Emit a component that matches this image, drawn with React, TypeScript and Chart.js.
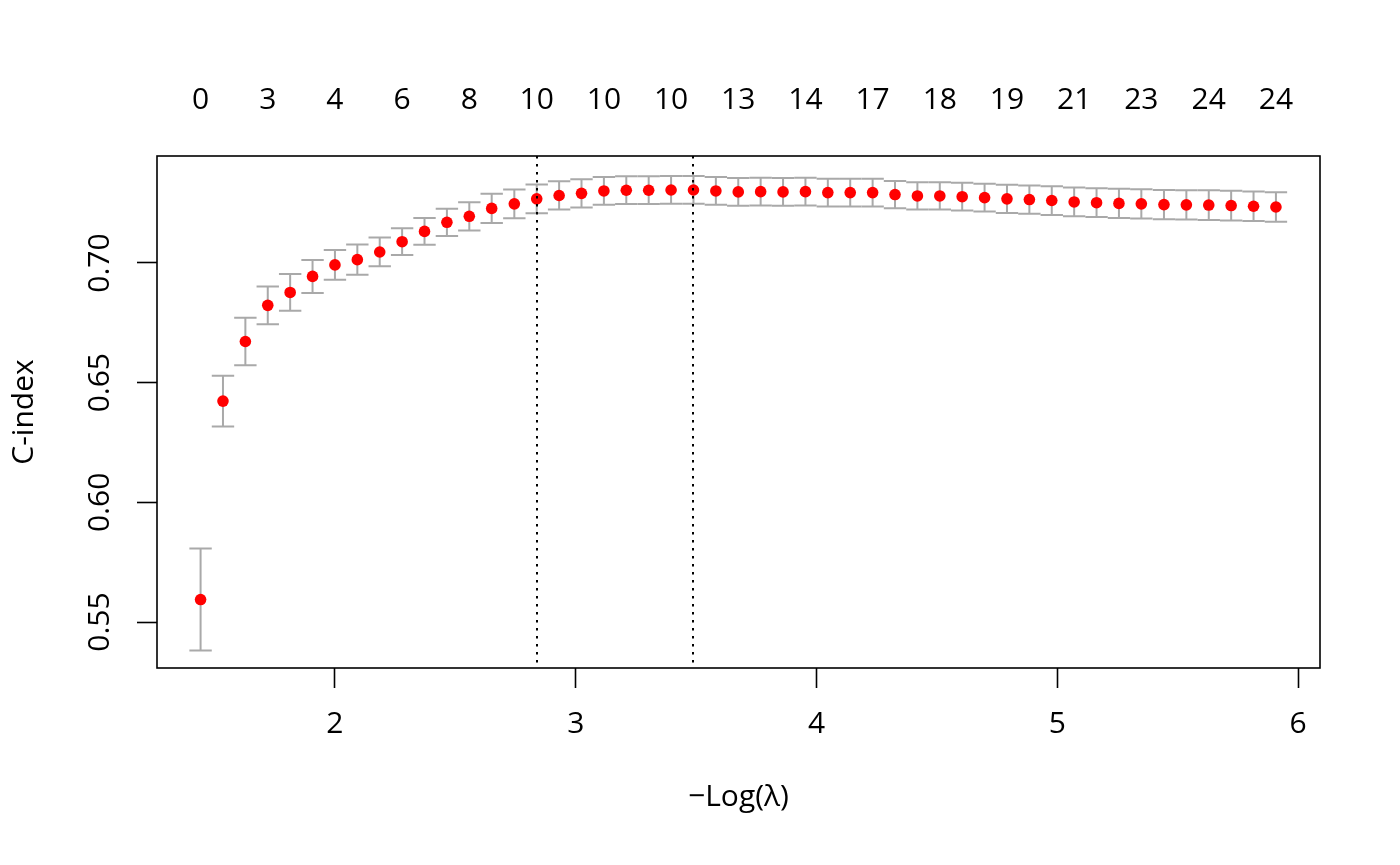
import React, { useEffect, useRef } from "react";
import { Chart, registerables } from "chart.js";

Chart.register(...registerables);

// -log(lambda) for each fitted lambda
const lambdaX = [
  1.442, 1.535, 1.628, 1.721, 1.814, 1.907, 2.0, 2.093, 2.186, 2.279,
  2.372, 2.465, 2.558, 2.651, 2.745, 2.838, 2.931, 3.024, 3.117, 3.21,
  3.303, 3.396, 3.489, 3.582, 3.675, 3.768, 3.861, 3.954, 4.047, 4.14,
  4.233, 4.326, 4.419, 4.512, 4.605, 4.698, 4.791, 4.884, 4.977, 5.07,
  5.163, 5.256, 5.349, 5.443, 5.536, 5.629, 5.722, 5.815, 5.908,
];

// mean cross-validated C-index
const cvm = [
  0.5594, 0.6423, 0.6672, 0.6823, 0.6877, 0.6944, 0.6992, 0.7014, 0.7046, 0.7089,
  0.7132, 0.717, 0.7195, 0.7228, 0.7247, 0.7268, 0.7282, 0.7291, 0.7301, 0.7304,
  0.7304, 0.7305, 0.7305, 0.7301, 0.7297, 0.7298, 0.7297, 0.7298, 0.7294, 0.7294,
  0.7294, 0.7286, 0.728, 0.728, 0.7277, 0.7273, 0.7268, 0.7265, 0.7261, 0.7255,
  0.7252, 0.7249, 0.7247, 0.7244, 0.7243, 0.7242, 0.724, 0.7237, 0.7234,
];

// standard error of the C-index
const cvsd = [
  0.0213, 0.0106, 0.0099, 0.0079, 0.0077, 0.0069, 0.0062, 0.0063, 0.006, 0.0056,
  0.0056, 0.0057, 0.0059, 0.0061, 0.006, 0.006, 0.0059, 0.0059, 0.0058, 0.0058,
  0.0058, 0.0058, 0.0058, 0.0058, 0.0058, 0.0058, 0.0058, 0.0058, 0.0058, 0.0058,
  0.0058, 0.0057, 0.0057, 0.0057, 0.0058, 0.0058, 0.0059, 0.0059, 0.006, 0.006,
  0.006, 0.0061, 0.0061, 0.0061, 0.0061, 0.0062, 0.0062, 0.0062, 0.0062,
];

// number of non-zero coefficients shown on the top axis (every third lambda)
const topLabelIndex = [0, 3, 6, 9, 12, 15, 18, 21, 24, 27, 30, 33, 36, 39, 42, 45, 48];
const topLabels = ["0", "3", "4", "6", "8", "10", "10", "10", "13", "14", "17", "18", "19", "21", "23", "24", "24"];

const xTicks = [2, 3, 4, 5, 6];
const yTicks = [0.55, 0.6, 0.65, 0.7];
const xRange = [1.261, 6.091];
const yRange = [0.5308, 0.7447];

// lambda.1se and lambda.min
const refLines = [2.838, 3.489];

const FONT = "'Open Sans', 'Noto Sans', sans-serif";
const FS = 30;

const errorBars = {
  id: "errorBars",
  beforeDatasetsDraw(chart: any) {
    const { ctx, scales } = chart;
    const x = scales.x;
    const y = scales.y;
    ctx.save();
    ctx.strokeStyle = "#A9A9A9";
    ctx.lineWidth = 2;
    const capHalf = 0.0465;
    lambdaX.forEach((lx, i) => {
      const px = x.getPixelForValue(lx);
      const pl = x.getPixelForValue(lx - capHalf);
      const pr = x.getPixelForValue(lx + capHalf);
      const top = y.getPixelForValue(cvm[i] + cvsd[i]);
      const bot = y.getPixelForValue(cvm[i] - cvsd[i]);
      ctx.beginPath();
      ctx.moveTo(px, top);
      ctx.lineTo(px, bot);
      ctx.moveTo(pl, top);
      ctx.lineTo(pr, top);
      ctx.moveTo(pl, bot);
      ctx.lineTo(pr, bot);
      ctx.stroke();
    });
    ctx.restore();
  },
  afterDatasetsDraw(chart: any) {
    const { ctx, scales, chartArea } = chart;
    const x = scales.x;
    ctx.save();
    ctx.strokeStyle = "#000";
    ctx.lineWidth = 2;
    ctx.setLineDash([2.5, 5.5]);
    refLines.forEach((v) => {
      const px = Math.round(x.getPixelForValue(v));
      ctx.beginPath();
      ctx.moveTo(px, chartArea.top);
      ctx.lineTo(px, chartArea.bottom);
      ctx.stroke();
    });
    ctx.setLineDash([]);
    ctx.lineWidth = 1.6;
    ctx.strokeRect(chartArea.left, chartArea.top, chartArea.right - chartArea.left, chartArea.bottom - chartArea.top);
    ctx.restore();
  },
};

export default function App() {
  const ref = useRef<HTMLCanvasElement | null>(null);
  useEffect(() => {
    if (!ref.current) return;
    const chart = new Chart(ref.current, {
      type: "scatter",
      data: {
        datasets: [
          {
            data: lambdaX.map((v, i) => ({ x: v, y: cvm[i] })),
            backgroundColor: "#FF0000",
            borderWidth: 0,
            pointRadius: 5.8,
            pointHoverRadius: 5.8,
          },
        ],
      },
      options: {
        animation: false,
        responsive: false,
        devicePixelRatio: 1,
        events: [],
        layout: { padding: { left: 0, right: 80, top: 0, bottom: 0 } },
        plugins: { legend: { display: false }, tooltip: { enabled: false } },
        scales: {
          x: {
            type: "linear",
            position: "bottom",
            min: xRange[0],
            max: xRange[1],
            afterBuildTicks: (s: any) => {
              s.ticks = xTicks.map((v) => ({ value: v }));
            },
            afterFit: (s: any) => {
              s.height = 197;
            },
            border: { display: false },
            grid: { display: true, drawOnChartArea: false, drawTicks: true, tickLength: 20, tickColor: "#000", tickWidth: 1.6 },
            ticks: {
              autoSkip: false,
              maxRotation: 0,
              padding: 18,
              color: "#000",
              font: { family: FONT, size: FS },
              callback: (v: any) => String(v),
            },
            title: {
              display: true,
              text: "\u2212Log(\u03BB)",
              color: "#000",
              font: { family: FONT, size: FS },
              padding: { top: 0, bottom: 50 },
            },
          },
          x2: {
            type: "linear",
            position: "top",
            min: xRange[0],
            max: xRange[1],
            afterBuildTicks: (s: any) => {
              s.ticks = topLabelIndex.map((i) => ({ value: lambdaX[i] }));
            },
            afterFit: (s: any) => {
              s.height = 156;
            },
            border: { display: false },
            grid: { display: false, drawTicks: false },
            ticks: {
              autoSkip: false,
              maxRotation: 0,
              padding: 38,
              color: "#000",
              font: { family: FONT, size: FS },
              callback: (_v: any, i: number) => topLabels[i],
            },
          },
          y: {
            type: "linear",
            position: "left",
            min: yRange[0],
            max: yRange[1],
            afterBuildTicks: (s: any) => {
              s.ticks = yTicks.map((v) => ({ value: v }));
            },
            afterFit: (s: any) => {
              s.width = 157;
            },
            border: { display: false },
            grid: { display: true, drawOnChartArea: false, drawTicks: true, tickLength: 20, tickColor: "#000", tickWidth: 1.6 },
            ticks: {
              autoSkip: false,
              minRotation: 90,
              maxRotation: 90,
              crossAlign: "center",
              padding: 7,
              color: "#000",
              font: { family: FONT, size: FS },
              callback: (v: any) => Number(v).toFixed(2),
            },
            title: {
              display: true,
              text: "C-index",
              color: "#000",
              font: { family: FONT, size: FS },
              padding: { top: 6, bottom: 0 },
            },
          },
        },
      } as any,
      plugins: [errorBars],
    });
    return () => chart.destroy();
  }, []);

  return (
    <div style={{ position: "fixed", left: 0, top: 0, width: 1400, height: 865, background: "#fff" }}>
      <canvas ref={ref} width={1400} height={865} style={{ display: "block", width: 1400, height: 865 }} />
    </div>
  );
}
